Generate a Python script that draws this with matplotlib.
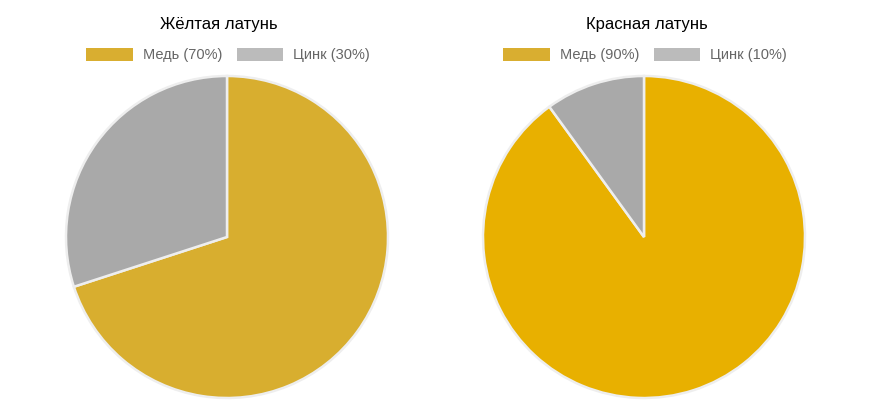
import matplotlib.pyplot as plt
from matplotlib.patches import Patch

plt.rcParams['font.family'] = ['Liberation Sans', 'DejaVu Sans']

titles = ["Жёлтая латунь", "Красная латунь"]
labels = ["Медь", "Цинк"]
yellow_vals = [70, 30]
red_vals = [90, 10]
values = [yellow_vals, red_vals]
slice_colors = [["#D8AE2F", "#A9A9A9"], ["#E8B000", "#A9A9A9"]]
legend_colors = ["#D9AE30", "#BBBBBB"]

W, H = 878, 409
fig = plt.figure(figsize=(W / 100, H / 100), dpi=100)

centers = [227, 644]
title_x = [219, 647]
cy = 237
r = 161

for i in range(2):
    cx = centers[i]
    ax = fig.add_axes([(cx - r) / W, (H - cy - r) / H, 2 * r / W, 2 * r / H])
    ax.pie(values[i], colors=slice_colors[i], startangle=90, counterclock=False,
           radius=1, wedgeprops=dict(edgecolor="#eeeeee", linewidth=1.8))
    ax.set_xlim(-1.0, 1.0)
    ax.set_ylim(-1.0, 1.0)
    ax.set_aspect('equal')
    ax.axis('off')

    fig.text(title_x[i] / W, 1 - 25 / H, titles[i], ha='center', va='center',
             fontsize=12, color='black')

    handles = [Patch(facecolor=legend_colors[j], edgecolor='none') for j in range(2)]
    texts = [f"{labels[j]} ({values[i][j]}%)" for j in range(2)]
    fig.legend(handles, texts, loc='center', bbox_to_anchor=((cx + 1) / W, 1 - 55 / H),
               ncol=2, frameon=False, fontsize=10.5, handlelength=3.2, handleheight=1.0,
               handletextpad=0.65, columnspacing=1.0, labelcolor='#666666')

fig.savefig("out.png", dpi=100)
